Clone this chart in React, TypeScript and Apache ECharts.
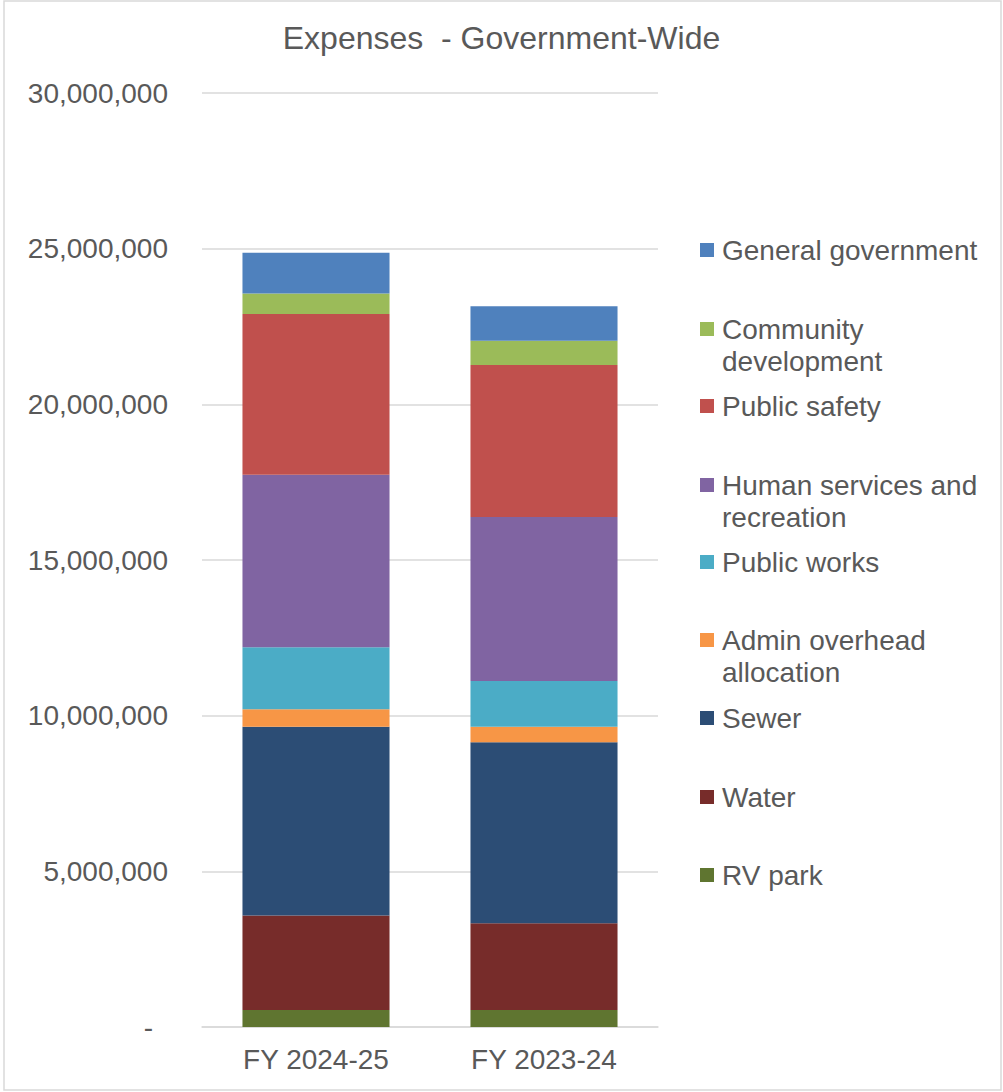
import React, { useEffect, useRef } from "react";
import * as echarts from "echarts";

const categories = ["FY 2024-25", "FY 2023-24"];

const seriesNames = [
  "RV park",
  "Water",
  "Sewer",
  "Admin overhead allocation",
  "Public works",
  "Human services and recreation",
  "Public safety",
  "Community development",
  "General government",
];

const rvPark = [550000, 550000];
const water = [3030000, 2780000];
const sewer = [6060000, 5820000];
const adminOverhead = [570000, 490000];
const publicWorks = [1990000, 1470000];
const humanServices = [5540000, 5270000];
const publicSafety = [5160000, 4880000];
const communityDev = [660000, 780000];
const generalGov = [1310000, 1110000];

const seriesValues = [
  rvPark,
  water,
  sewer,
  adminOverhead,
  publicWorks,
  humanServices,
  publicSafety,
  communityDev,
  generalGov,
];

const seriesColors = [
  "#5F7530",
  "#772C2A",
  "#2C4D75",
  "#F79646",
  "#4BACC6",
  "#8064A2",
  "#C0504D",
  "#9BBB59",
  "#4F81BD",
];

// a leading blank line keeps the first text line level with the icon
const legendLabels: Record<string, string> = {
  "Community development": " \nCommunity\ndevelopment",
  "Human services and recreation": " \nHuman services and\nrecreation",
  "Admin overhead allocation": " \nAdmin overhead\nallocation",
};

// legend order top to bottom and first-line centre y positions
const legendOrder = [
  "General government",
  "Community development",
  "Public safety",
  "Human services and recreation",
  "Public works",
  "Admin overhead allocation",
  "Sewer",
  "Water",
  "RV park",
];
const legendLineY = [250, 329, 406, 485, 562, 640, 718, 797, 875];

const FONT = "'Liberation Sans', Arial, sans-serif";
const TEXT = "#595959";
const LH = 32;
const FS = 28;

export default function App() {
  const ref = useRef<HTMLDivElement>(null);

  useEffect(() => {
    document.body.style.margin = "0";
    if (!ref.current) return;
    const chart = echarts.init(ref.current, undefined, { renderer: "svg" });

    const legends = legendOrder.map((name, i) => {
      const twoLine = !!legendLabels[name];
      return {
        data: [name],
        left: 700,
        top: twoLine ? legendLineY[i] - LH * 1.5 : legendLineY[i] - LH / 2,
        padding: 0,
        orient: "vertical",
        icon: "rect",
        itemWidth: 14,
        itemHeight: 14,
        selectedMode: false,
        formatter: (n: string) => legendLabels[n] || n,
        textStyle: {
          color: TEXT,
          fontSize: FS,
          fontFamily: FONT,
          lineHeight: LH,
          padding: [0, 0, 0, 3],
        },
      };
    });

    chart.setOption({
      animation: false,
      backgroundColor: "#ffffff",
      title: {
        text: "Expenses  - Government-Wide",
        left: "center",
        top: 17,
        textStyle: {
          color: TEXT,
          fontSize: 32,
          fontWeight: "normal",
          fontFamily: FONT,
        },
      },
      legend: legends,
      grid: {
        left: 202,
        right: 345,
        top: 93,
        bottom: 65,
        containLabel: false,
      },
      xAxis: {
        type: "category",
        data: categories,
        axisTick: { show: false },
        axisLine: { lineStyle: { color: "#d9d9d9", width: 1.5 } },
        axisLabel: {
          color: TEXT,
          fontSize: FS,
          fontFamily: FONT,
          margin: 18,
        },
      },
      yAxis: {
        type: "value",
        min: 0,
        max: 30000000,
        interval: 5000000,
        axisLine: { show: false },
        axisTick: { show: false },
        splitLine: { lineStyle: { color: "#d9d9d9", width: 1.5 } },
        axisLabel: {
          color: TEXT,
          fontSize: FS,
          fontFamily: FONT,
          margin: 34,
          formatter: (v: number) =>
            v === 0 ? "{d|-}" : v.toLocaleString("en-US"),
          rich: {
            d: {
              color: TEXT,
              fontSize: FS,
              fontFamily: FONT,
              padding: [0, 15, 0, 0],
            },
          },
        },
      },
      series: seriesNames.map((name, i) => ({
        name,
        type: "bar",
        stack: "total",
        barWidth: "64.5%",
        data: seriesValues[i],
        itemStyle: { color: seriesColors[i] },
        emphasis: { disabled: true },
      })),
      graphic: [
        {
          type: "rect",
          shape: { x: 4, y: 1, width: 997, height: 1089 },
          style: { fill: "none", stroke: "#d9d9d9", lineWidth: 1.5 },
          silent: true,
          z: 100,
        },
      ],
    });

    return () => chart.dispose();
  }, []);

  return <div ref={ref} style={{ width: 1003, height: 1092 }} />;
}
